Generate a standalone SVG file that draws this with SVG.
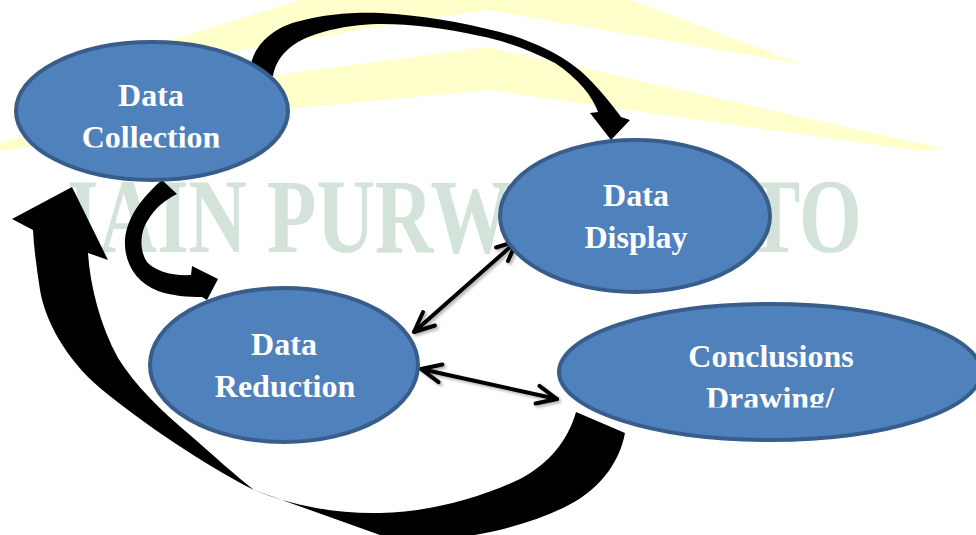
<svg xmlns="http://www.w3.org/2000/svg" width="976" height="535" viewBox="0 0 976 535">
  <style>
    .node ellipse { fill: #4f81bd; stroke: #385d8a; stroke-width: 4; }
    .label { font-family: "Liberation Serif", "Times New Roman", serif; font-weight: bold; font-size: 32px; fill: #ffffff; text-anchor: middle; }
    .mark { font-family: "Liberation Serif", "Times New Roman", serif; font-weight: bold; font-size: 106px; fill: #d3e3da; }
    .band { fill: #ffffcc; }
    .bold { fill: #000000; }
    .thin { fill: none; stroke: #000000; stroke-width: 4; stroke-linecap: round; marker-start: url(#open); marker-end: url(#open); }
  </style>
  <defs>
    <marker id="open" markerUnits="userSpaceOnUse" viewBox="-24 -13 28 26" refX="0" refY="0" markerWidth="28" markerHeight="26" orient="auto-start-reverse">
      <path d="M-20,-9 L0,0 L-20,9" fill="none" stroke="#000000" stroke-width="4" stroke-linecap="round" stroke-linejoin="round"/>
    </marker>
    <filter id="shade" x="-10%" y="-10%" width="130%" height="130%">
      <feDropShadow dx="2" dy="2" stdDeviation="1.5" flood-color="#000000" flood-opacity="0.3"/>
    </filter>
    <clipPath id="clipCollection"><rect x="0" y="0" width="976" height="147.5"/></clipPath>
    <clipPath id="clipDrawing"><rect x="0" y="0" width="976" height="407.5"/></clipPath>
  </defs>

  <rect width="976" height="535" fill="#ffffff"/>

  <!-- background logo: roof bands and name -->
  <g id="backdrop">
    <polygon class="band" points="140,50 300,0 631,0 801,64 488,10 433,18 250,48 160,62"/>
    <polygon class="band" points="0,142 277,75 488,47 945,149 921,151 488,90 277,110 0,151"/>
    <text class="mark" x="67" y="252" textLength="795" lengthAdjust="spacingAndGlyphs">IAIN PURWOKERTO</text>
  </g>

  <!-- connectors -->
  <g id="connectors">
    <!-- Data Collection to Data Display, arching over the top -->
    <path class="bold" d="M250,70 C252,48 270,28 300,21 C325,14 355,12 380,13 C420,15 460,22 500,32 C540,43 572,60 592,82 C606,97 616,110 621,117 L630,120 L611,140 L590,113 L598,112 C593,97 578,78 555,63 C530,50 505,41 480,36 C445,28 410,24 383,24 C350,24 318,31 298,42 C283,51 275,63 273,76 Z"/>
    <!-- Data Collection to Data Reduction -->
    <path class="bold" d="M162,180 C145,195 127,215 125,240 C124,262 135,282 158,291 C172,296 188,297 202,297 L207,300 L218,279 L192,266 L191,275 C172,276 155,271 147,262 C139,250 140,232 148,220 C155,208 165,200 177,194 Z"/>
    <!-- Conclusions Drawing back to Data Collection, sweeping under -->
    <path class="bold" d="M576,412 L625,433 C619,465 597,492 563,508 C535,521 505,530 469,536 L425,548 L380,535 L254,490 C205,465 145,425 100,388 C65,358 45,320 40,290 C37,270 34,250 33,230 L12,219 L72,187 L108,260 L88,253 C90,285 100,325 118,358 C135,385 160,410 190,435 C215,457 235,475 254,490 C290,505 335,514 380,513 C430,512 480,498 520,479 C550,463 568,440 576,412 Z"/>
    <!-- two-way links -->
    <g filter="url(#shade)">
      <line class="thin" x1="414" y1="332" x2="517" y2="241"/>
      <line class="thin" x1="421" y1="369" x2="557" y2="399"/>
    </g>
  </g>

  <g id="data-collection" class="node">
    <ellipse cx="152" cy="111" rx="136" ry="69"/>
    <text class="label" x="151" y="106">Data</text>
    <text class="label" x="151" y="148" clip-path="url(#clipCollection)">Collection</text>
  </g>

  <g id="data-display" class="node">
    <ellipse cx="635" cy="216" rx="135" ry="76"/>
    <text class="label" x="636" y="206">Data</text>
    <text class="label" x="636" y="248">Display</text>
  </g>

  <g id="data-reduction" class="node">
    <ellipse cx="284" cy="365" rx="134" ry="77"/>
    <text class="label" x="284" y="355">Data</text>
    <text class="label" x="285" y="397">Reduction</text>
  </g>

  <g id="conclusions-drawing" class="node">
    <ellipse cx="770" cy="372" rx="211" ry="68"/>
    <text class="label" x="771" y="367">Conclusions</text>
    <text class="label" x="770" y="409" clip-path="url(#clipDrawing)">Drawing/</text>
  </g>
</svg>
